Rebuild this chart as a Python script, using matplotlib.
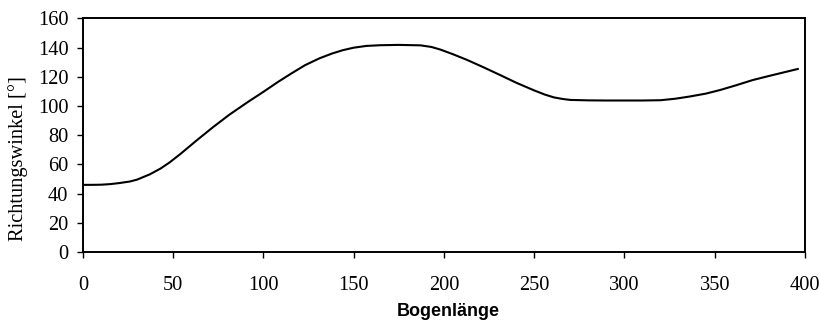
import matplotlib
matplotlib.use("Agg")
import matplotlib.pyplot as plt

# Richtungswinkel along the arc length
bogen = [0, 5, 10, 15, 20, 26, 30, 37, 43, 48, 54, 63, 72, 81, 91, 100, 108, 115,
         123, 131, 138, 144, 150, 157, 165, 175, 187, 193, 198, 205, 213, 222, 231,
         240, 250, 256, 261, 266, 270, 280, 290, 300, 310, 320, 328, 336, 345, 353,
         362, 371, 380, 388, 396]
winkel = [46, 46, 46.1, 46.5, 47.2, 48.3, 49.6, 53.2, 57.2, 61.4, 67.2, 76.5, 85.5,
          94, 102.5, 109.8, 116.5, 122, 128, 132.7, 136, 138.3, 140, 141.2, 141.7,
          141.9, 141.6, 140.5, 138.7, 135.5, 131.5, 126.5, 121.3, 116, 110.7, 107.8,
          105.9, 104.8, 104.2, 103.9, 103.8, 103.8, 103.8, 104, 105, 106.5, 108.5,
          111, 114.3, 117.8, 120.6, 123, 125.4]

xticks = [0, 50, 100, 150, 200, 250, 300, 350, 400]
yticks = [0, 20, 40, 60, 80, 100, 120, 140, 160]

serif = ["Liberation Serif", "DejaVu Serif"]
sans = ["Liberation Sans", "DejaVu Sans"]

fig = plt.figure(figsize=(8.21, 3.21), dpi=100)
ax = fig.add_axes([0.1011, 0.2150, 0.8794, 0.7274])

ax.plot(bogen, winkel, color="black", linewidth=1.5)

ax.set_xlim(0, 400)
ax.set_ylim(0, 160)
ax.set_xticks(xticks)
ax.set_yticks(yticks)
ax.set_xticklabels([str(t) for t in xticks], fontfamily=serif, fontsize=14.7)
ax.set_yticklabels([str(t) for t in yticks], fontfamily=serif, fontsize=14.7)
ax.tick_params(axis="x", direction="out", length=4.5, width=1, pad=13)
ax.tick_params(axis="y", direction="out", length=4.5, width=1, pad=6)

for s in ax.spines.values():
    s.set_linewidth(1.4)
    s.set_color("black")

ax.set_xlabel("Bogenlänge", fontfamily=sans, fontweight="bold", fontsize=13)
ax.xaxis.set_label_coords(0.5055, -0.218)
ax.set_ylabel("Richtungswinkel [°]", fontfamily=serif, fontsize=14.7)
ax.yaxis.set_label_coords(-0.076, 0.40)

fig.savefig("out.png", dpi=100)
